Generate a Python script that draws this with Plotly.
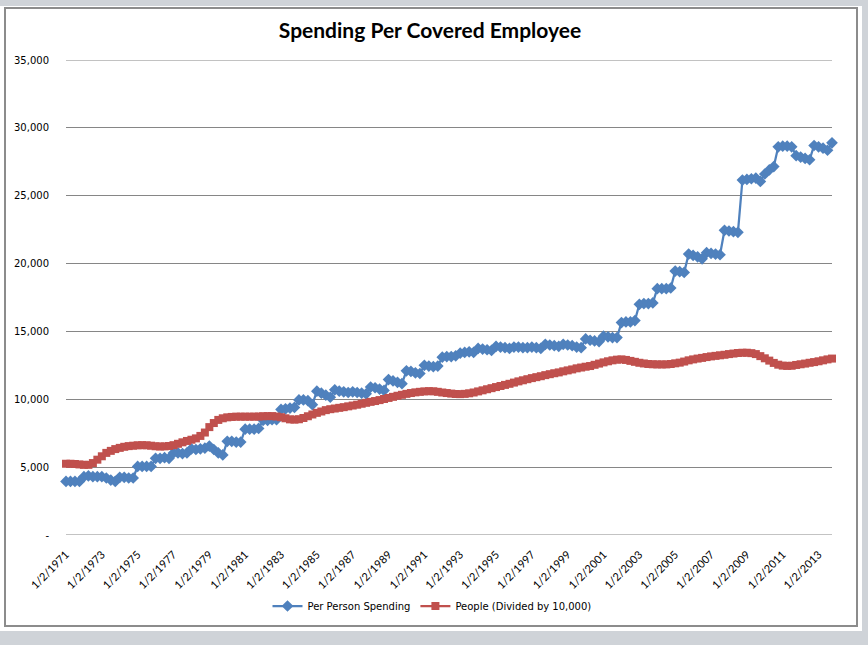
import plotly.graph_objects as go

# ---------------- data ----------------
years = list(range(1971, 2014))
quarter_months = [1, 4, 7, 10]
dates = [f"{m}/2/{y}" for y in years for m in quarter_months]  # quarterly categories

per_person_spending = [
    3950, 3950, 3950, 3950,
    4300, 4350, 4300, 4300,
    4300, 4200, 4050, 3950,
    4250, 4250, 4200, 4200,
    5050, 5050, 5050, 5050,
    5650, 5650, 5700, 5650,
    6050, 6050, 6000, 6050,
    6350, 6300, 6350, 6400,
    6550, 6300, 6050, 5900,
    6900, 6900, 6850, 6850,
    7800, 7800, 7800, 7850,
    8450, 8450, 8500, 8500,
    9250, 9300, 9350, 9400,
    9950, 9950, 9900, 9600,
    10600, 10450, 10300, 10150,
    10700, 10600, 10550, 10500,
    10550, 10500, 10450, 10400,
    10900, 10850, 10750, 10650,
    11450, 11350, 11250, 11150,
    12100, 12050, 11950, 11900,
    12500, 12450, 12400, 12450,
    13100, 13150, 13150, 13200,
    13400, 13450, 13500, 13450,
    13750, 13700, 13650, 13600,
    13900, 13850, 13800, 13750,
    13850, 13850, 13800, 13800,
    13850, 13800, 13750, 14050,
    14000, 13950, 13900, 14050,
    14000, 13950, 13850, 13800,
    14450, 14350, 14300, 14250,
    14650, 14600, 14550, 14550,
    15650, 15700, 15700, 15800,
    17000, 17050, 17050, 17100,
    18150, 18150, 18150, 18200,
    19450, 19400, 19350, 20700,
    20600, 20500, 20350, 20800,
    20750, 20700, 20650, 22450,
    22400, 22350, 22300, 26150,
    26200, 26250, 26300, 26050,
    26600, 26900, 27150, 28600,
    28650, 28650, 28600, 27950,
    27850, 27750, 27650, 28700,
    28600, 28500, 28350, 28900,
]

people_div_10000 = [
    5250, 5250, 5230, 5200, 5170, 5170, 5300, 5550,
    5800, 6050, 6200, 6330, 6420, 6500, 6550, 6580,
    6610, 6620, 6610, 6580, 6540, 6520, 6530, 6560,
    6620, 6720, 6830, 6930, 7020, 7120, 7300, 7550,
    7950, 8250, 8480, 8600, 8670, 8700, 8720, 8720,
    8720, 8720, 8720, 8730, 8750, 8760, 8760, 8730,
    8680, 8600, 8520, 8500, 8530, 8620, 8750, 8880,
    9000, 9100, 9200, 9270, 9320, 9370, 9420, 9480,
    9540, 9600, 9670, 9740, 9810, 9870, 9940, 10020,
    10100, 10180, 10260, 10330, 10400, 10460, 10510, 10550,
    10580, 10600, 10590, 10550, 10500, 10460, 10420, 10390,
    10380, 10400, 10440, 10500, 10580, 10660, 10740, 10820,
    10900, 10980, 11060, 11140, 11230, 11320, 11400, 11480,
    11560, 11630, 11700, 11780, 11850, 11920, 11980, 12060,
    12130, 12200, 12280, 12340, 12400, 12450, 12540, 12630,
    12720, 12800, 12870, 12920, 12940, 12900, 12830, 12760,
    12690, 12640, 12600, 12580, 12570, 12570, 12570, 12600,
    12650, 12700, 12780, 12870, 12940, 13000, 13050, 13110,
    13160, 13200, 13240, 13280, 13330, 13370, 13410, 13430,
    13430, 13400, 13330, 13180, 13020, 12850, 12680, 12550,
    12480, 12460, 12470, 12530, 12580, 12630, 12690, 12740,
    12800, 12870, 12940, 13000,
]

y_tick_values = [0, 5000, 10000, 15000, 20000, 25000, 30000, 35000]
y_tick_labels = ["-", "5,000", "10,000", "15,000", "20,000", "25,000", "30,000", "35,000"]
x_tick_labels = dates[::8]

title_text = "Spending Per Covered Employee"
series_names = ["Per Person Spending", "People (Divided by 10,000)"]

# ---------------- figure ----------------
W, H = 868, 645
L, R, T, B = 66, 36, 60, 110
pw, ph = W - L - R, H - T - B
GRID = "#868686"


def px_x(px):
    return (px - L) / pw


def px_y(py):
    return (H - B - py) / ph


fig = go.Figure()
fig.add_trace(go.Scatter(
    x=dates, y=per_person_spending, name=series_names[0], mode="lines+markers",
    line=dict(color="#4f81bd", width=2.25),
    marker=dict(symbol="diamond", size=9, color="#4f81bd"),
    cliponaxis=False,
))
fig.add_trace(go.Scatter(
    x=dates, y=people_div_10000, name=series_names[1], mode="lines+markers",
    line=dict(color="#c0504d", width=2.25),
    marker=dict(symbol="square", size=8, color="#c0504d"),
    cliponaxis=False,
))

# edge grid lines (bottom axis line and top gridline), which plotly skips at range ends
edge_lines = [
    dict(type="line", xref="paper", yref="y", layer="below",
         x0=0, x1=1, y0=v, y1=v, line=dict(color=GRID, width=1))
    for v in (y_tick_values[0], y_tick_values[-1])
]

fig.update_layout(
    width=W, height=H,
    margin=dict(l=L, r=R, t=T, b=B, pad=0),
    paper_bgcolor="#cfd3d8",
    plot_bgcolor="white",
    title=dict(text=title_text, x=430 / W, y=1 - 31 / H, xanchor="center", yanchor="middle",
               font=dict(family="Lato", size=21, color="black", weight="bold")),
    showlegend=True,
    legend=dict(orientation="h", x=px_x(432), y=px_y(606), xanchor="center", yanchor="middle",
                font=dict(family="DejaVu Sans", size=10, color="black"),
                bgcolor="rgba(0,0,0,0)", itemwidth=30, tracegroupgap=0),
    shapes=[
        dict(type="rect", xref="paper", yref="paper", layer="below",
             x0=px_x(0), x1=px_x(862), y0=px_y(631), y1=px_y(6),
             fillcolor="white", line=dict(width=0)),
        dict(type="rect", xref="paper", yref="paper", layer="below",
             x0=px_x(5), x1=px_x(857), y0=px_y(626), y1=px_y(8),
             fillcolor="rgba(0,0,0,0)", line=dict(color="#8c8c8c", width=2)),
    ] + edge_lines,
)

fig.update_xaxes(
    type="category", range=[0, len(dates) - 1],
    tickmode="array", tickvals=x_tick_labels, ticktext=x_tick_labels,
    tickangle=-45, tickfont=dict(family="Lato", size=11, color="black"),
    showgrid=False, zeroline=False, showline=False,
    ticks="outside", ticklen=8, tickcolor="rgba(0,0,0,0)",
)
fig.update_yaxes(
    range=[0, 35000], tickmode="array", tickvals=y_tick_values, ticktext=y_tick_labels,
    tickfont=dict(family="DejaVu Sans", size=10, color="black"),
    showgrid=True, gridcolor=GRID, gridwidth=1,
    zeroline=False, showline=False,
    ticks="outside", ticklen=14, tickcolor="rgba(0,0,0,0)",
)

fig.write_html("out.html", post_script="document.body.style.margin='0';",
               config={"displayModeBar": False})
